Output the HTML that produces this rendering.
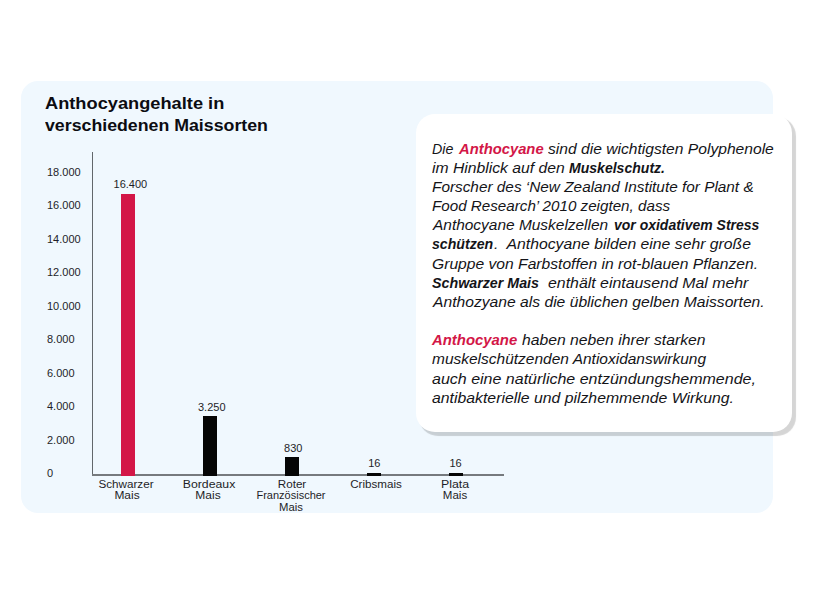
<!DOCTYPE html>
<html><head><meta charset="utf-8">
<style>
html,body{margin:0;padding:0;background:#fff;width:820px;height:600px;overflow:hidden;position:relative;font-family:"Liberation Sans",sans-serif;color:#111;}
.a{position:absolute;white-space:nowrap;transform-origin:0 0;}
#panel{position:absolute;left:21.2px;top:81.1px;width:752.1px;height:432.2px;background:#f0f8fe;border-radius:17px;}
.tt{position:absolute;left:45px;font-weight:bold;font-size:17.3px;line-height:20px;color:#0c0c12;white-space:nowrap;transform-origin:0 0;}
.yl{position:absolute;left:47px;font-size:11px;line-height:12px;color:#1e1e28;white-space:nowrap;transform-origin:0 0;}
#yaxis{position:absolute;left:92px;top:152px;width:1.3px;height:323px;background:#62676b;}
#xaxis{position:absolute;left:92px;top:473.8px;width:411.5px;height:1.8px;background:#767a7e;}
.bar{position:absolute;width:14px;background:#050505;}
.vl{position:absolute;font-size:11px;line-height:12px;color:#1e1e28;white-space:nowrap;transform-origin:50% 0;text-align:center;width:80px;}
.xl{position:absolute;font-size:10px;line-height:12px;color:#1e1e28;white-space:nowrap;transform-origin:50% 0;text-align:center;width:100px;}
#card{position:absolute;left:416px;top:114px;width:376px;height:317.6px;background:#fff;border-radius:19px;box-shadow:3.4px 3.2px 0.8px rgba(0,0,0,0.165);}
.tl{position:absolute;left:431.5px;font-style:italic;font-size:14.2px;line-height:19px;color:#141418;white-space:nowrap;transform-origin:0 0;}
.tl b{font-weight:bold;}
.r{color:#d31647;font-weight:bold;}
</style></head><body>
<div id="panel"></div>

<div class="tt" style="top:92.61px;transform:scaleX(1.0550)">Anthocyangehalte in</div>
<div class="tt" style="top:114.51px;transform:scaleX(1.0269)">verschiedenen Maissorten</div>
<div class="yl" style="top:166.00px;transform:scaleX(1.0000)">18.000</div>
<div class="yl" style="top:199.45px;transform:scaleX(1.0000)">16.000</div>
<div class="yl" style="top:232.90px;transform:scaleX(1.0000)">14.000</div>
<div class="yl" style="top:266.35px;transform:scaleX(1.0000)">12.000</div>
<div class="yl" style="top:299.80px;transform:scaleX(1.0000)">10.000</div>
<div class="yl" style="top:333.25px;transform:scaleX(1.0000)">8.000</div>
<div class="yl" style="top:366.70px;transform:scaleX(1.0000)">6.000</div>
<div class="yl" style="top:400.15px;transform:scaleX(1.0000)">4.000</div>
<div class="yl" style="top:433.60px;transform:scaleX(1.0000)">2.000</div>
<div class="yl" style="top:467.05px;transform:scaleX(1.0000)">0</div>
<div id="yaxis"></div>
<div id="xaxis"></div>
<div class="bar" style="left:121px;top:193.5px;height:282.1px;background:#d31647"></div>
<div class="bar" style="left:203px;top:416px;height:59.60000000000002px"></div>
<div class="bar" style="left:285px;top:456.7px;height:18.900000000000034px"></div>
<div class="bar" style="left:367px;top:473px;height:2.6000000000000227px"></div>
<div class="bar" style="left:449px;top:473px;height:2.6000000000000227px"></div>
<div class="vl" style="left:90.40px;top:177.80px;transform:scaleX(1.0000)">16.400</div>
<div class="vl" style="left:171.75px;top:400.60px;transform:scaleX(1.0000)">3.250</div>
<div class="vl" style="left:253.25px;top:441.70px;transform:scaleX(1.0000)">830</div>
<div class="vl" style="left:334.25px;top:457.00px;transform:scaleX(1.0000)">16</div>
<div class="vl" style="left:415.50px;top:457.00px;transform:scaleX(1.0000)">16</div>
<div class="xl" style="left:75.55px;top:478.91px;transform:scaleX(1.1680)">Schwarzer</div>
<div class="xl" style="left:76.50px;top:489.81px;transform:scaleX(1.1950)">Mais</div>
<div class="xl" style="left:158.90px;top:478.91px;transform:scaleX(1.2290)">Bordeaux</div>
<div class="xl" style="left:158.30px;top:489.81px;transform:scaleX(1.2000)">Mais</div>
<div class="xl" style="left:241.80px;top:478.91px;transform:scaleX(1.1670)">Roter</div>
<div class="xl" style="left:241.45px;top:489.81px;transform:scaleX(1.1000)">Französischer</div>
<div class="xl" style="left:240.80px;top:501.51px;transform:scaleX(1.1290)">Mais</div>
<div class="xl" style="left:326.20px;top:478.91px;transform:scaleX(1.1610)">Cribsmais</div>
<div class="xl" style="left:404.70px;top:478.91px;transform:scaleX(1.2360)">Plata</div>
<div class="xl" style="left:404.60px;top:489.81px;transform:scaleX(1.1520)">Mais</div>
<div id="card"></div>
<div class="tl" style="left:431.55px;top:139.70px;transform:scaleX(1.0034)">Die</div>
<div class="tl" style="left:459.42px;top:139.70px;transform:scaleX(1.0419)"><span class="r">Anthocyane</span></div>
<div class="tl" style="left:548.10px;top:139.70px;transform:scaleX(1.1012)">sind die wichtigsten Polyphenole</div>
<div class="tl" style="left:432.49px;top:158.85px;transform:scaleX(1.1075)">im Hinblick auf den</div>
<div class="tl" style="left:568.57px;top:158.85px;transform:scaleX(0.9900)"><b>Muskelschutz.</b></div>
<div class="tl" style="left:431.50px;top:178.00px;transform:scaleX(1.0819)">Forscher des ‘New Zealand Institute for Plant &amp;</div>
<div class="tl" style="left:431.51px;top:197.15px;transform:scaleX(1.0704)">Food Research’ 2010 zeigten, dass</div>
<div class="tl" style="left:432.50px;top:216.30px;transform:scaleX(1.0888)">Anthocyane Muskelzellen</div>
<div class="tl" style="left:613.65px;top:216.30px;transform:scaleX(0.9856)"><b>vor oxidativem Stress</b></div>
<div class="tl" style="left:431.78px;top:235.45px;transform:scaleX(0.9959)"><b>schützen</b></div>
<div class="tl" style="left:493.68px;top:235.45px;transform:scaleX(1.1106)">.&nbsp; Anthocyane bilden eine sehr große</div>
<div class="tl" style="left:432.49px;top:254.60px;transform:scaleX(1.1026)">Gruppe von Farbstoffen in rot-blauen Pflanzen.</div>
<div class="tl" style="left:432.43px;top:273.75px;transform:scaleX(1.0050)"><b>Schwarzer Mais</b></div>
<div class="tl" style="left:547.71px;top:273.75px;transform:scaleX(1.1192)">enthält eintausend Mal mehr</div>
<div class="tl" style="left:432.51px;top:292.90px;transform:scaleX(1.1038)">Anthozyane als die üblichen gelben Maissorten.</div>
<div class="tl" style="left:432.42px;top:331.20px;transform:scaleX(1.0494)"><span class="r">Anthocyane</span></div>
<div class="tl" style="left:522.10px;top:331.20px;transform:scaleX(1.1080)">haben neben ihrer starken</div>
<div class="tl" style="left:431.50px;top:350.35px;transform:scaleX(1.0918)">muskelschützenden Antioxidanswirkung</div>
<div class="tl" style="left:432.48px;top:369.50px;transform:scaleX(1.1282)">auch eine natürliche entzündungshemmende,</div>
<div class="tl" style="left:432.48px;top:388.65px;transform:scaleX(1.1137)">antibakterielle und pilzhemmende Wirkung.</div>
</body></html>
